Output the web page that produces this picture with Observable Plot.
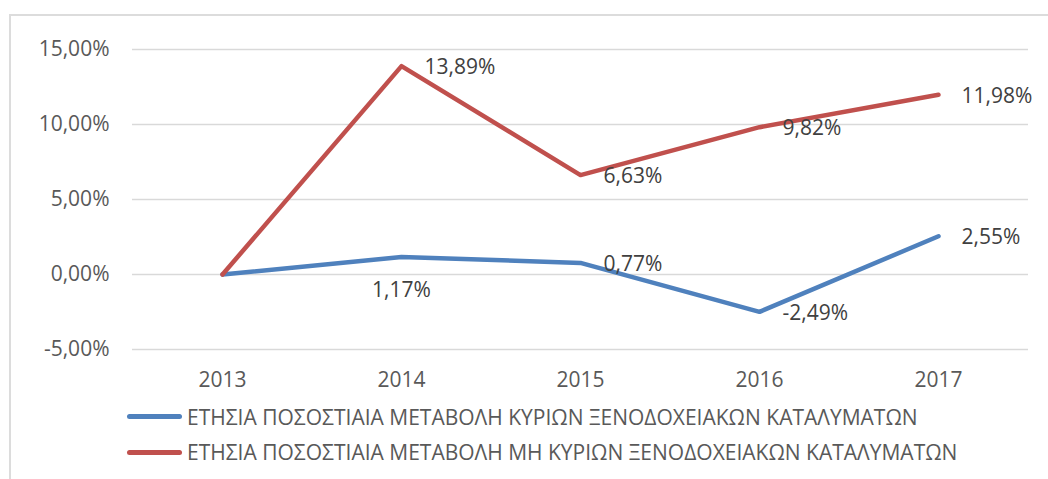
<!DOCTYPE html>
<html>
<head>
<meta charset="utf-8">
<script src="https://cdn.jsdelivr.net/npm/d3@7"></script>
<script src="https://cdn.jsdelivr.net/npm/@observablehq/plot@0.6"></script>
<style>
  html, body { margin: 0; padding: 0; background: #fff; overflow: hidden; }
  body { width: 1048px; height: 479px; position: relative; font-family: "Open Sans", sans-serif; }
  #frame { position: absolute; left: 9px; top: 14px; width: 1100px; height: 520px; border: 2px solid #dcdcdc; box-sizing: border-box; }
  #chart { position: absolute; left: 0; top: 0; }
  #legend { position: absolute; left: 127px; top: 399px; color: #595959; font-size: 21px; }
  .item { display: flex; align-items: center; height: 35.5px; }
  .sw { width: 55px; height: 5px; border-radius: 3px; margin-right: 5px; }
</style>
</head>
<body>
<div id="frame"></div>
<div id="chart"></div>
<div id="legend"></div>
<script>
const years = ["2013", "2014", "2015", "2016", "2017"];
const seriesNames = [
  "ΕΤΗΣΙΑ ΠΟΣΟΣΤΙΑΙΑ ΜΕΤΑΒΟΛΗ ΚΥΡΙΩΝ ΞΕΝΟΔΟΧΕΙΑΚΩΝ ΚΑΤΑΛΥΜΑΤΩΝ",
  "ΕΤΗΣΙΑ ΠΟΣΟΣΤΙΑΙΑ ΜΕΤΑΒΟΛΗ ΜΗ ΚΥΡΙΩΝ ΞΕΝΟΔΟΧΕΙΑΚΩΝ ΚΑΤΑΛΥΜΑΤΩΝ"
];
const mainValues = [0, 1.17, 0.77, -2.49, 2.55];
const nonMainValues = [0, 13.89, 6.63, 9.82, 11.98];
const yTicks = [-5, 0, 5, 10, 15];
const colors = ["#4f81bd", "#c0504d"];

const seriesValues = [mainValues, nonMainValues];
const data = [];
seriesValues.forEach((vals, s) => vals.forEach((v, i) => data.push({series: seriesNames[s], s, year: years[i], i, value: v})));

const fmt = v => v.toFixed(2).replace(".", ",") + "%";
// label placement: first year unlabeled; main series 2014 label sits below the point
const labeled = data.filter(d => d.i > 0);
const rightLabels = labeled.filter(d => !(d.s === 0 && d.i === 1));
const belowLabels = labeled.filter(d => d.s === 0 && d.i === 1);

const chart = Plot.plot({
  width: 1048,
  height: 395,
  marginLeft: 132,
  marginRight: 20,
  marginTop: 49,
  marginBottom: 46,
  style: {fontFamily: "'Open Sans', sans-serif", fontSize: "21px", background: "transparent", overflow: "visible"},
  x: {type: "point", domain: years, padding: 0.5, label: null},
  y: {domain: [-5, 15], ticks: yTicks, label: null, tickFormat: fmt},
  color: {domain: seriesNames, range: colors},
  marks: [
    Plot.ruleY(yTicks, {stroke: "#d9d9d9", strokeWidth: 1.3}),
    Plot.axisY({ticks: yTicks, tickSize: 0, tickPadding: 23, tickFormat: fmt, fill: "#595959", fontSize: 21, label: null}),
    Plot.axisX({tickSize: 0, tickPadding: 23, fill: "#595959", fontSize: 21, label: null}),
    Plot.line(data, {x: "year", y: "value", z: "series", stroke: "series", strokeWidth: 4.5, strokeLinecap: "round", strokeLinejoin: "round"}),
    Plot.text(rightLabels, {x: "year", y: "value", text: d => fmt(d.value), textAnchor: "start", dx: 23, dy: 1, fill: "#404040", fontSize: 21}),
    Plot.text(belowLabels, {x: "year", y: "value", text: d => fmt(d.value), textAnchor: "middle", dy: 33, fill: "#404040", fontSize: 21})
  ]
});
document.getElementById("chart").appendChild(chart);

const legend = document.getElementById("legend");
seriesNames.forEach((name, k) => {
  const item = document.createElement("div");
  item.className = "item";
  const sw = document.createElement("div");
  sw.className = "sw";
  sw.style.background = colors[k];
  const t = document.createElement("span");
  t.textContent = name;
  item.appendChild(sw);
  item.appendChild(t);
  legend.appendChild(item);
});
</script>
</body>
</html>
